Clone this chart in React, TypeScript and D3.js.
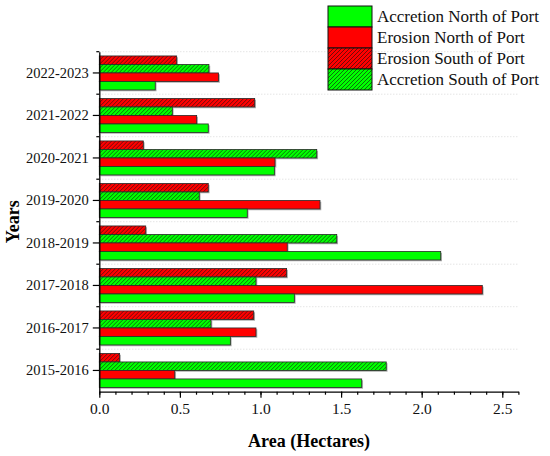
import { useEffect, useRef } from "react";
import * as d3 from "d3";

const years: string[] = [
  "2015-2016",
  "2016-2017",
  "2017-2018",
  "2018-2019",
  "2019-2020",
  "2020-2021",
  "2021-2022",
  "2022-2023",
];

const accretionNorth: number[] = [1.628, 0.813, 1.21, 2.118, 0.918, 1.086, 0.676, 0.347];
const erosionNorth: number[] = [0.468, 0.972, 2.376, 1.166, 1.369, 1.09, 0.604, 0.74];
const erosionSouth: number[] = [0.126, 0.958, 1.162, 0.288, 0.676, 0.273, 0.964, 0.48];
const accretionSouth: number[] = [1.78, 0.693, 0.972, 1.473, 0.62, 1.349, 0.453, 0.68];

const xTicks: number[] = [0, 0.5, 1.0, 1.5, 2.0, 2.5];

function App() {
  const svgRef = useRef<SVGSVGElement>(null);

  useEffect(() => {
    if (!svgRef.current) return;
    const svg = d3.select(svgRef.current);
    svg.selectAll("*").remove();

    const width = 550;
    const height = 456;
    svg.attr("width", width).attr("height", height);

    const font = "'Liberation Serif', 'Times New Roman', serif";
    const green = "#00ff00";
    const red = "#ff0000";

    // hatch patterns
    const defs = svg.append("defs");
    [
      { id: "hatchRed", fill: red },
      { id: "hatchGreen", fill: green },
    ].forEach((p) => {
      const pat = defs
        .append("pattern")
        .attr("id", p.id)
        .attr("patternUnits", "userSpaceOnUse")
        .attr("width", 4)
        .attr("height", 4);
      pat.append("rect").attr("width", 4).attr("height", 4).attr("fill", p.fill);
      pat
        .append("path")
        .attr("d", "M-1,1 l2,-2 M0,4 l4,-4 M3,5 l2,-2")
        .attr("stroke", "#111")
        .attr("stroke-width", 0.6);
    });

    const series = [
      { key: "es", label: "Erosion South of Port", values: erosionSouth, fill: "url(#hatchRed)" },
      { key: "as", label: "Accretion South of Port", values: accretionSouth, fill: "url(#hatchGreen)" },
      { key: "en", label: "Erosion North of Port", values: erosionNorth, fill: red },
      { key: "an", label: "Accretion North of Port", values: accretionNorth, fill: green },
    ];

    const left = 99.3;
    const right = 518.4;
    const top = 51.7;
    const bottom = 391.7;

    const x = d3.scaleLinear().domain([0, 2.6]).range([left, right]);
    const y = d3
      .scaleBand()
      .domain([...years].reverse())
      .range([top, bottom])
      .padding(0);
    const inner = d3
      .scaleBand()
      .domain(series.map((s) => s.key))
      .range([0, y.bandwidth()])
      .paddingInner(0)
      .paddingOuter(0.5);

    // dotted gridlines at band boundaries
    const boundaries = d3.range(years.length).map((i) => top + i * y.step());
    svg
      .append("g")
      .selectAll("line")
      .data(boundaries)
      .join("line")
      .attr("x1", left)
      .attr("x2", right)
      .attr("y1", (d) => d)
      .attr("y2", (d) => d)
      .attr("stroke", "#cfcfcf")
      .attr("stroke-width", 0.8)
      .attr("stroke-dasharray", "1,2");

    // bars
    const groups = svg
      .append("g")
      .selectAll("g")
      .data(years)
      .join("g")
      .attr("transform", (d) => `translate(0,${y(d)})`);

    series.forEach((s) => {
      groups
        .append("rect")
        .attr("x", x(0) + 1.3)
        .attr("y", inner(s.key)! + 1.3)
        .attr("width", (_, i) => x(s.values[i]) - x(0))
        .attr("height", inner.bandwidth())
        .attr("fill", "#8a8a8a")
        .attr("opacity", 0.7);
      groups
        .append("rect")
        .attr("x", x(0))
        .attr("y", inner(s.key)!)
        .attr("width", (_, i) => x(s.values[i]) - x(0))
        .attr("height", inner.bandwidth())
        .attr("fill", s.fill)
        .attr("stroke", "#2a2a2a")
        .attr("stroke-width", 0.8);
    });

    // x axis
    const gx = svg
      .append("g")
      .attr("transform", `translate(0,${bottom})`)
      .call(
        d3
          .axisBottom(x)
          .tickValues(d3.range(0, 2.61, 0.1))
          .tickSize(3)
          .tickSizeOuter(0)
          .tickFormat(() => "")
      );
    gx.select(".domain").attr("stroke-width", 1.3);
    const gx2 = svg
      .append("g")
      .attr("transform", `translate(0,${bottom})`)
      .call(
        d3
          .axisBottom(x)
          .tickValues(xTicks)
          .tickSize(6)
          .tickSizeOuter(0)
          .tickPadding(5)
          .tickFormat(d3.format(".1f"))
      );
    gx2.select(".domain").remove();
    svg.selectAll(".tick line").attr("stroke-width", 1.2);
    gx2.selectAll("text").attr("font-family", font).attr("font-size", 15.5).attr("fill", "#111");

    // y axis
    const gy = svg
      .append("g")
      .attr("transform", `translate(${left},0)`)
      .call(d3.axisLeft(y).tickSize(6.5).tickSizeOuter(0).tickPadding(4));
    gy.select(".domain").attr("stroke-width", 1.3);
    gy.selectAll(".tick line").attr("stroke-width", 1.2);
    gy.selectAll("text").attr("font-family", font).attr("font-size", 14.5).attr("fill", "#111");
    svg
      .append("g")
      .selectAll("line")
      .data(boundaries)
      .join("line")
      .attr("x1", left - 3)
      .attr("x2", left)
      .attr("y1", (d) => d)
      .attr("y2", (d) => d)
      .attr("stroke", "#000")
      .attr("stroke-width", 1.2);

    // axis titles
    svg
      .append("text")
      .attr("x", 309)
      .attr("y", 447)
      .attr("text-anchor", "middle")
      .attr("font-family", font)
      .attr("font-weight", "bold")
      .attr("font-size", 18)
      .text("Area (Hectares)");
    svg
      .append("text")
      .attr("transform", `translate(19,${(top + bottom) / 2}) rotate(-90)`)
      .attr("text-anchor", "middle")
      .attr("font-family", font)
      .attr("font-weight", "bold")
      .attr("font-size", 18)
      .text("Years");

    // legend
    const legendOrder = [series[3], series[2], series[0], series[1]];
    const lg = svg.append("g").attr("transform", "translate(328,6)");
    const rowH = 21;
    lg.selectAll("rect.sw")
      .data(legendOrder)
      .join("rect")
      .attr("class", "sw")
      .attr("x", 0)
      .attr("y", (_, i) => i * rowH)
      .attr("width", 44)
      .attr("height", rowH)
      .attr("fill", (d) => d.fill)
      .attr("stroke", "#111")
      .attr("stroke-width", 1);
    lg.selectAll("text")
      .data(legendOrder)
      .join("text")
      .attr("x", 49)
      .attr("y", (_, i) => i * rowH + rowH / 2 + 5.6)
      .attr("font-family", font)
      .attr("font-size", 17)
      .attr("fill", "#111")
      .text((d) => d.label);
  }, []);

  return <svg ref={svgRef} style={{ position: "absolute", left: 0, top: 0 }}></svg>;
}

export default App;
